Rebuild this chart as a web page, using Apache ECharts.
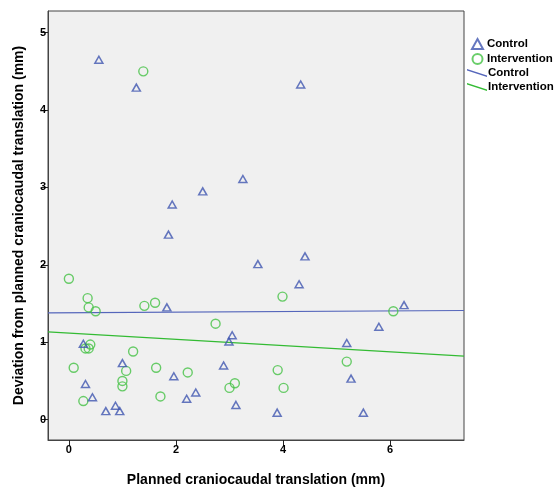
<!DOCTYPE html>
<html>
<head>
<meta charset="utf-8">
<script src="https://cdn.jsdelivr.net/npm/echarts@6/dist/echarts.min.js"></script>
<style>
html,body{margin:0;padding:0;background:#fff;}
#chart{width:556px;height:492px;}
</style>
</head>
<body>
<div id="chart"></div>
<script>
// Data
var controlX = [0.56,1.26,4.33,3.25,2.50,1.93,1.86,3.53,4.41,4.30,1.83,6.26,5.79,3.05,2.99,0.27,5.19,1.00,2.89,1.96,5.27,0.31,2.37,0.44,2.20,0.87,3.12,0.69,0.95,3.89,5.50];
var controlY = [4.65,4.29,4.33,3.11,2.95,2.78,2.39,2.01,2.11,1.75,1.45,1.48,1.20,1.09,1.01,0.98,0.99,0.73,0.70,0.56,0.53,0.46,0.35,0.29,0.27,0.18,0.19,0.11,0.11,0.09,0.09];
var interventionX = [1.39,0.00,0.35,0.37,0.50,1.41,1.61,2.74,3.99,6.06,0.40,0.31,0.37,1.20,0.09,1.07,1.63,2.22,1.00,1.00,3.10,3.00,1.71,0.27,5.19,3.90,4.01];
var interventionY = [4.50,1.82,1.57,1.45,1.40,1.47,1.51,1.24,1.59,1.40,0.97,0.92,0.92,0.88,0.67,0.63,0.67,0.61,0.50,0.43,0.47,0.41,0.30,0.24,0.75,0.64,0.41];
// Fit lines: endpoints at the axis limits
var controlFitX = [-0.39, 7.38];
var controlFitY = [1.38, 1.41];
var interventionFitX = [-0.39, 7.38];
var interventionFitY = [1.135, 0.82];
var xTicks = [0, 2, 4, 6];
var yTicks = [0, 1, 2, 3, 4, 5];
var seriesNames = ['Control', 'Intervention'];

function zip(a, b) { return a.map(function (v, i) { return [v, b[i]]; }); }

var BLUE = '#4056b0';
var GREEN = '#45c245';
var BLUE_LINE = '#5566bb';
var GREEN_LINE = '#33bb33';
var FONT = 'Liberation Sans, Arial, sans-serif';

var chart = echarts.init(document.getElementById('chart'), null, {renderer: 'canvas'});
var lineIcon = 'path://M0,0 L20,6.5 L20,8 L0,1.5 Z';

chart.setOption({
  animation: false,
  backgroundColor: '#ffffff',
  textStyle: {fontFamily: FONT},
  grid: {
    left: 48, top: 11, right: 92, bottom: 45,
    show: true, backgroundColor: '#f0f0f0', borderColor: '#444', borderWidth: 1,
    containLabel: false
  },
  legend: [{
    orient: 'vertical', left: 471, top: 38, itemGap: 3, padding: 0,
    itemWidth: 11, itemHeight: 10,
    data: ['ctrlPts', 'intPts'],
    formatter: function (n) { return n === 'ctrlPts' ? seriesNames[0] : seriesNames[1]; },
    textStyle: {fontFamily: FONT, fontWeight: 'bold', fontSize: 11.5, color: '#000', padding: [0, 0, 0, -1]},
    selectedMode: false
  }, {
    orient: 'vertical', left: 467, top: 67, itemGap: 2, padding: 0,
    itemWidth: 20, itemHeight: 8,
    data: [{name: 'ctrlFit', icon: lineIcon}, {name: 'intFit', icon: lineIcon}],
    formatter: function (n) { return n === 'ctrlFit' ? seriesNames[0] : seriesNames[1]; },
    textStyle: {fontFamily: FONT, fontWeight: 'bold', fontSize: 11.5, color: '#000', padding: [0, 0, 0, -4]},
    selectedMode: false
  }],
  xAxis: {
    type: 'value', min: -0.39, max: 7.38,
    name: 'Planned craniocaudal translation (mm)',
    nameLocation: 'middle', nameGap: 33,
    nameTextStyle: {fontFamily: FONT, fontWeight: 'bold', fontSize: 14, color: '#000'},
    axisLine: {show: true, onZero: false, lineStyle: {color: '#444', width: 1}},
    axisTick: {show: true, length: 6, customValues: xTicks, lineStyle: {color: '#222'}},
    axisLabel: {customValues: xTicks, fontFamily: FONT, fontWeight: 'bold', fontSize: 11, color: '#000', margin: 4},
    splitLine: {show: false}
  },
  yAxis: {
    type: 'value', min: -0.263, max: 5.28,
    name: 'Deviation from planned craniocaudal translation (mm)',
    nameLocation: 'middle', nameGap: 22,
    nameTextStyle: {fontFamily: FONT, fontWeight: 'bold', fontSize: 14, color: '#000'},
    axisLine: {show: true, onZero: false, lineStyle: {color: '#444', width: 1}},
    axisTick: {show: true, length: 7, customValues: yTicks, lineStyle: {color: '#222'}},
    axisLabel: {customValues: yTicks, fontFamily: FONT, fontWeight: 'bold', fontSize: 11, color: '#000', margin: 2},
    splitLine: {show: false}
  },
  series: [{
    name: 'ctrlFit', type: 'line', data: zip(controlFitX, controlFitY),
    symbol: 'none', color: BLUE_LINE, itemStyle: {color: BLUE_LINE},
    lineStyle: {color: BLUE_LINE, width: 1.2}, z: 1
  }, {
    name: 'intFit', type: 'line', data: zip(interventionFitX, interventionFitY),
    symbol: 'none', color: GREEN_LINE, itemStyle: {color: GREEN_LINE},
    lineStyle: {color: GREEN_LINE, width: 1.2}, z: 1
  }, {
    name: 'ctrlPts', type: 'scatter', data: zip(controlX, controlY),
    symbol: 'triangle', symbolSize: [8, 7],
    itemStyle: {color: 'rgba(0,0,0,0)', borderColor: BLUE, borderWidth: 1.5}, z: 3
  }, {
    name: 'intPts', type: 'scatter', data: zip(interventionX, interventionY),
    symbol: 'circle', symbolSize: 9,
    itemStyle: {color: 'rgba(0,0,0,0)', borderColor: GREEN, borderWidth: 1.4}, z: 2
  }]
});
</script>
</body>
</html>
